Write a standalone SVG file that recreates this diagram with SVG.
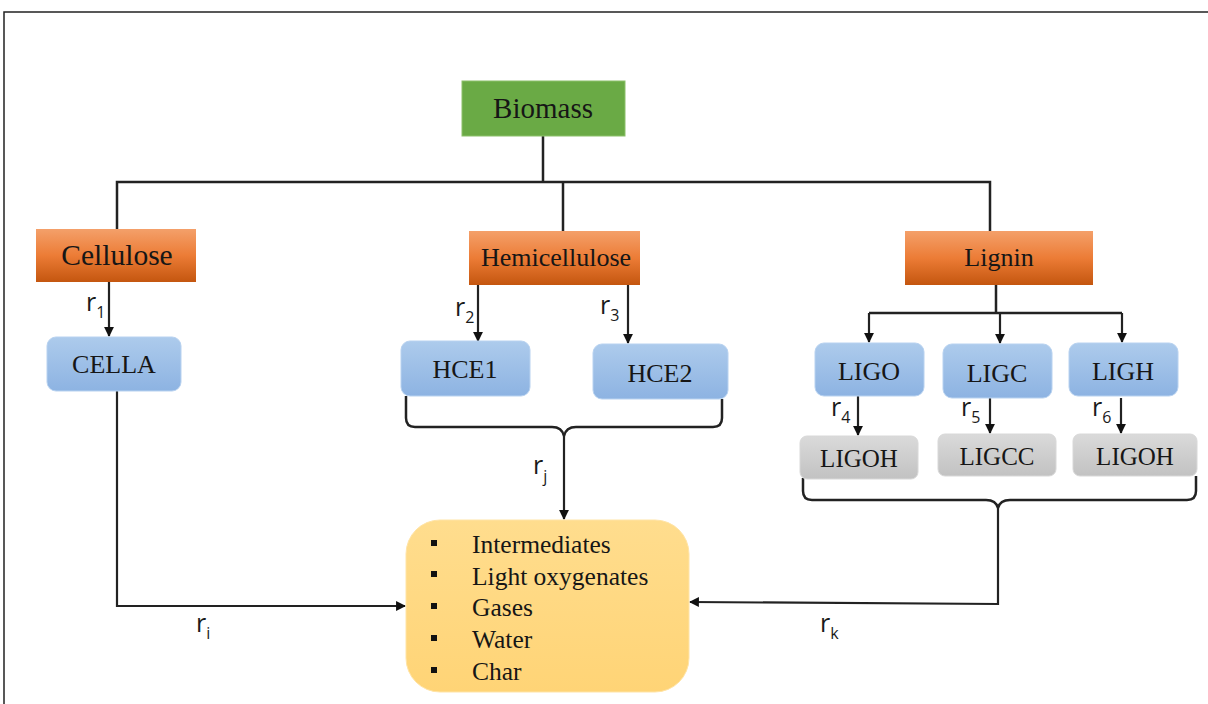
<svg xmlns="http://www.w3.org/2000/svg" width="1208" height="704" viewBox="0 0 1208 704">
  <style>
    .frame { fill: none; stroke: #222; stroke-width: 1.5; }
    .wire { fill: none; stroke: #222; stroke-width: 2.5; }
    .arr { fill: none; stroke: #222; stroke-width: 2.2; marker-end: url(#head); }
    .lbl { font-family: "Liberation Serif", "DejaVu Serif", serif; fill: #161616; text-anchor: middle; }
    .rate { font-family: "Open Sans", "Liberation Sans", sans-serif; fill: #1a1a1a; font-size: 25px; }
    .sub { font-size: 16px; }
    .item { font-family: "Liberation Serif", "DejaVu Serif", serif; fill: #161616; font-size: 25.5px; }
  </style>
  <defs>
    <marker id="head" viewBox="0 0 10 10" refX="9" refY="5" markerWidth="4.5" markerHeight="4.5" orient="auto" markerUnits="strokeWidth">
      <path d="M0,0 L10,5 L0,10 Z" fill="#111"/>
    </marker>
    <linearGradient id="orange" x1="0" y1="0" x2="0" y2="1">
      <stop offset="0" stop-color="#F4A06A"/>
      <stop offset="0.5" stop-color="#EC7C36"/>
      <stop offset="1" stop-color="#C4560F"/>
    </linearGradient>
    <linearGradient id="blue" x1="0" y1="0" x2="0" y2="1">
      <stop offset="0" stop-color="#ADCBEC"/>
      <stop offset="1" stop-color="#8DB3E2"/>
    </linearGradient>
    <linearGradient id="gray" x1="0" y1="0" x2="0" y2="1">
      <stop offset="0" stop-color="#DADADA"/>
      <stop offset="1" stop-color="#C2C2C2"/>
    </linearGradient>
    <linearGradient id="amber" x1="0" y1="0" x2="0" y2="1">
      <stop offset="0" stop-color="#FFDD8E"/>
      <stop offset="1" stop-color="#FFD476"/>
    </linearGradient>
  </defs>

  <rect width="1208" height="704" fill="#fff"/>
  <!-- outer frame -->
  <path class="frame" d="M4,704 L4,12 L1208,12"/>

  <!-- connectors -->
  <g id="connectors">
    <path class="wire" d="M543,136 L543,182 M117,229 L117,182 L990,182 L990,231 M563,182 L563,231"/>
    <path class="arr" d="M109,282 L109,336"/>
    <path class="arr" d="M478,285 L478,341"/>
    <path class="arr" d="M628,285 L628,343"/>
    <!-- HCE brace and stem -->
    <path class="wire" d="M406,396 L406,418 Q406,427 415,427 L552,427 Q562,427 564,436 Q566,427 576,427 L713,427 Q722,427 722,418 L722,399"/>
    <path class="arr" d="M564,436 L564,519"/>
    <!-- lignin split -->
    <path class="wire" d="M996,285 L996,313 M869,313 L1122,313"/>
    <path class="arr" d="M869,313 L869,342"/>
    <path class="arr" d="M1000,313 L1000,343"/>
    <path class="arr" d="M1122,313 L1122,342"/>
    <path class="arr" d="M858,396 L858,435"/>
    <path class="arr" d="M990,398 L990,433"/>
    <path class="arr" d="M1121,398 L1121,433"/>
    <!-- lignin brace and return -->
    <path class="wire" d="M803,478 L803,491 Q803,500 812,500 L986,500 Q996,500 998,508 Q1000,500 1010,500 L1187,500 Q1196,500 1196,491 L1196,476"/>
    <path class="arr" d="M998,508 L998,604 L690,602"/>
    <!-- cellulose return -->
    <path class="arr" d="M117,391 L117,606 L405,606"/>
  </g>

  <!-- rate labels -->
  <g id="rates">
    <text class="rate" x="86" y="311">r<tspan class="sub" dy="7">1</tspan></text>
    <text class="rate" x="455" y="316">r<tspan class="sub" dy="7">2</tspan></text>
    <text class="rate" x="600" y="314">r<tspan class="sub" dy="7">3</tspan></text>
    <text class="rate" x="533" y="474">r<tspan class="sub" dy="8">j</tspan></text>
    <text class="rate" x="831" y="416">r<tspan class="sub" dy="7">4</tspan></text>
    <text class="rate" x="961" y="416">r<tspan class="sub" dy="7">5</tspan></text>
    <text class="rate" x="1092" y="416">r<tspan class="sub" dy="7">6</tspan></text>
    <text class="rate" x="196" y="632">r<tspan class="sub" dy="7">i</tspan></text>
    <text class="rate" x="820" y="632">r<tspan class="sub" dy="7">k</tspan></text>
  </g>

  <g id="biomass">
    <rect x="462" y="81" width="163" height="55" fill="#6AAA45" stroke="#8CC06A" stroke-width="1"/>
    <text class="lbl" x="543" y="118" font-size="29">Biomass</text>
  </g>

  <g id="cellulose">
    <rect x="36" y="229" width="160" height="53" fill="url(#orange)"/>
    <text class="lbl" x="117" y="265" font-size="29.5">Cellulose</text>
  </g>
  <g id="hemicellulose">
    <rect x="469" y="231" width="171" height="54" fill="url(#orange)"/>
    <text class="lbl" x="556" y="266" font-size="26">Hemicellulose</text>
  </g>
  <g id="lignin">
    <rect x="905" y="231" width="188" height="54" fill="url(#orange)"/>
    <text class="lbl" x="999" y="266" font-size="26">Lignin</text>
  </g>

  <g id="cella">
    <rect x="47" y="337" width="134" height="54" rx="9" fill="url(#blue)" stroke="#B8D2F0" stroke-width="1"/>
    <text class="lbl" x="114" y="373" font-size="26">CELLA</text>
  </g>
  <g id="hce1">
    <rect x="401" y="341" width="129" height="55" rx="9" fill="url(#blue)" stroke="#B8D2F0" stroke-width="1"/>
    <text class="lbl" x="465" y="378" font-size="26">HCE1</text>
  </g>
  <g id="hce2">
    <rect x="593" y="344" width="135" height="55" rx="9" fill="url(#blue)" stroke="#B8D2F0" stroke-width="1"/>
    <text class="lbl" x="660" y="382" font-size="26">HCE2</text>
  </g>

  <g id="ligo">
    <rect x="815" y="343" width="109" height="53" rx="9" fill="url(#blue)" stroke="#B8D2F0" stroke-width="1"/>
    <text class="lbl" x="869" y="380" font-size="26">LIGO</text>
  </g>
  <g id="ligc">
    <rect x="943" y="344" width="109" height="54" rx="9" fill="url(#blue)" stroke="#B8D2F0" stroke-width="1"/>
    <text class="lbl" x="997" y="382" font-size="26">LIGC</text>
  </g>
  <g id="ligh">
    <rect x="1069" y="343" width="109" height="53" rx="9" fill="url(#blue)" stroke="#B8D2F0" stroke-width="1"/>
    <text class="lbl" x="1123" y="380" font-size="26">LIGH</text>
  </g>

  <g id="ligoh1">
    <rect x="800" y="436" width="118" height="43" rx="7" fill="url(#gray)" stroke="#D8D8D8" stroke-width="1"/>
    <text class="lbl" x="859" y="467" font-size="25">LIGOH</text>
  </g>
  <g id="ligcc">
    <rect x="938" y="434" width="118" height="42" rx="7" fill="url(#gray)" stroke="#D8D8D8" stroke-width="1"/>
    <text class="lbl" x="997" y="465" font-size="25">LIGCC</text>
  </g>
  <g id="ligoh2">
    <rect x="1073" y="434" width="124" height="42" rx="7" fill="url(#gray)" stroke="#D8D8D8" stroke-width="1"/>
    <text class="lbl" x="1135" y="465" font-size="25">LIGOH</text>
  </g>

  <g id="products">
    <rect x="406" y="520" width="283" height="172" rx="34" fill="url(#amber)" stroke="#FFE4A6" stroke-width="1"/>
    <g fill="#111">
      <rect x="431" y="540" width="6" height="6"/>
      <rect x="431" y="571" width="6" height="6"/>
      <rect x="431" y="603" width="6" height="6"/>
      <rect x="431" y="635" width="6" height="6"/>
      <rect x="431" y="667" width="6" height="6"/>
    </g>
    <text class="item" x="472" y="553">Intermediates</text>
    <text class="item" x="472" y="585">Light oxygenates</text>
    <text class="item" x="472" y="616">Gases</text>
    <text class="item" x="472" y="648">Water</text>
    <text class="item" x="472" y="680">Char</text>
  </g>
</svg>
